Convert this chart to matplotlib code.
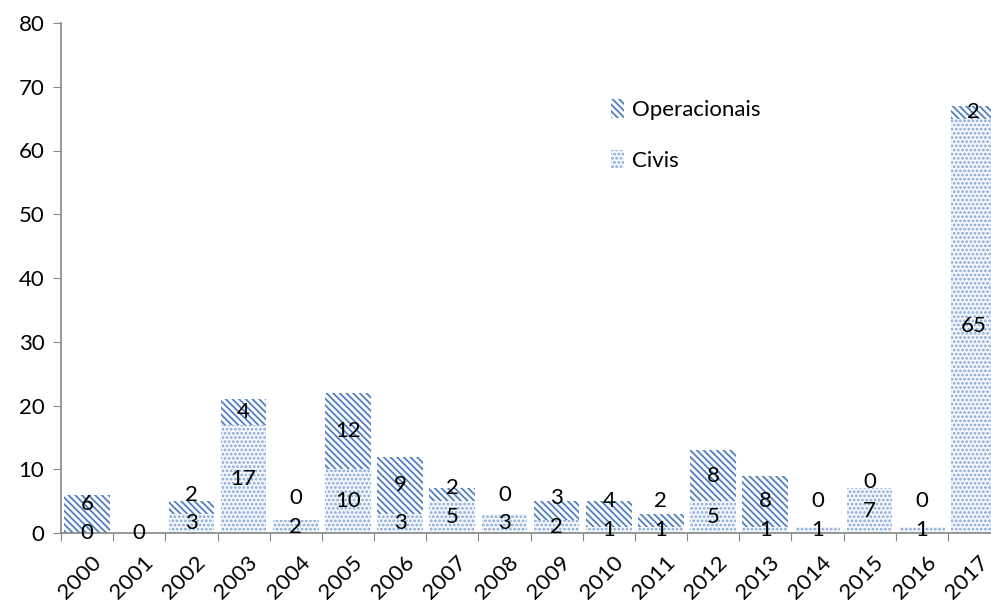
import matplotlib
matplotlib.use("Agg")
import matplotlib.pyplot as plt
import matplotlib.transforms as mtransforms
import numpy as np

years = ["2000", "2001", "2002", "2003", "2004", "2005", "2006", "2007", "2008",
         "2009", "2010", "2011", "2012", "2013", "2014", "2015", "2016", "2017"]
civis = [0, 0, 3, 17, 2, 10, 3, 5, 3, 2, 1, 1, 5, 1, 1, 7, 1, 65]
operacionais = [6, 0, 2, 4, 0, 12, 9, 2, 0, 3, 4, 2, 8, 8, 0, 0, 0, 2]
yticks = [0, 10, 20, 30, 40, 50, 60, 70, 80]

plt.rcParams['font.family'] = ['Lato', 'DejaVu Sans']
plt.rcParams['hatch.linewidth'] = 1.3

fig = plt.figure(figsize=(9.91, 6.03), dpi=100)
ax = fig.add_axes([61 / 991, 70 / 603, 939 / 991, 510 / 603])

x = np.arange(len(years))
w = 0.875
civ_color = '#86a8d6'
op_color = '#4f7fc0'

b1 = ax.bar(x, civis, width=w, facecolor='#f4f7fc', edgecolor=civ_color,
            hatch='....', linewidth=0, label='Civis')
b2 = ax.bar(x, operacionais, width=w, bottom=civis, facecolor='white',
            edgecolor=op_color, hatch='\\' * 5, linewidth=0, label='Operacionais')

fs = 16
for i, (c, o) in enumerate(zip(civis, operacionais)):
    cy = c / 2
    oy = c + o / 2
    if oy - cy < 4.5:
        oy = cy + 4.5
    ax.text(i, cy, str(c), ha='center', va='center', fontsize=fs, color='black')
    if c + o > 0:
        ax.text(i, oy, str(o), ha='center', va='center', fontsize=fs, color='black')

ax.set_xlim(-0.5, len(years) - 0.5)
ax.set_ylim(0, 80)
ax.set_yticks(yticks)
ax.set_yticklabels([str(v) for v in yticks], fontsize=fs)

ax.set_xticks(np.arange(-0.5, len(years), 1.0))
ax.set_xticklabels([])
ax.set_xticks(x, minor=True)
ax.set_xticklabels(years, minor=True, rotation=45, ha='right', va='top',
                   rotation_mode='anchor', fontsize=fs)
ax.tick_params(axis='x', which='minor', length=0, pad=14)
ax.tick_params(axis='x', which='major', length=6, color='#868686', direction='out')
ax.tick_params(axis='y', length=6, color='#868686', direction='out', pad=6)
offset = mtransforms.ScaledTranslation(4 / 100, 0, fig.dpi_scale_trans)
for lab in ax.xaxis.get_minorticklabels():
    lab.set_transform(lab.get_transform() + offset)

for s in ['top', 'right']:
    ax.spines[s].set_visible(False)
for s in ['left', 'bottom']:
    ax.spines[s].set_color('#868686')
    ax.spines[s].set_linewidth(1.2)

leg = ax.legend(handles=[b2, b1], labels=['Operacionais', 'Civis'],
                loc='upper left', bbox_to_anchor=(600 / 991, 1 - 88 / 603),
                bbox_transform=fig.transFigure, frameon=False, fontsize=fs,
                handlelength=0.6, handleheight=0.9, handletextpad=0.35,
                labelspacing=1.35, borderpad=0)

fig.savefig('out.png', dpi=100)
